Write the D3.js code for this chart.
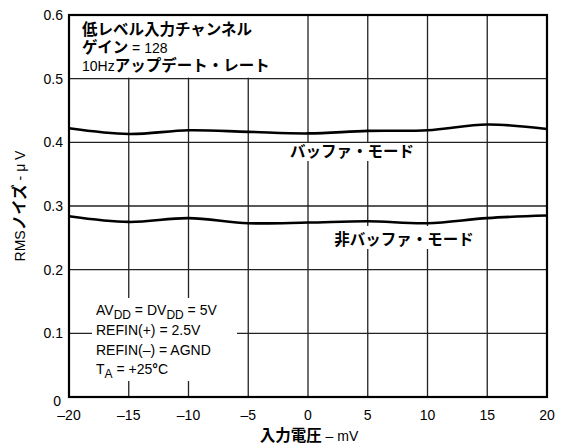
<!DOCTYPE html>
<html>
<head>
<meta charset="utf-8">
<script src="https://cdn.jsdelivr.net/npm/d3@7"></script>
<style>
  body { margin: 0; background: #fff; }
  text { font-family: "Liberation Sans", Arial, "Noto Sans CJK JP", sans-serif; fill: #000; }
  .jp { font-family: "Noto Sans CJK JP", sans-serif; font-weight: bold; font-size: 15.5px; }
</style>
</head>
<body>
<svg id="svg-area"></svg>
<script>
/* データ */
const inputVoltage = [-20, -15, -10, -5, 0, 5, 10, 15, 20];
const bufferedNoise = [0.422, 0.413, 0.419, 0.4165, 0.414, 0.418, 0.419, 0.428, 0.421];
const unbufferedNoise = [0.284, 0.275, 0.281, 0.273, 0.274, 0.276, 0.273, 0.281, 0.285];
const xTicks = [-20, -15, -10, -5, 0, 5, 10, 15, 20];
const yTicks = [0, 0.1, 0.2, 0.3, 0.4, 0.5, 0.6];

const width = 568, height = 446;
const margin = { left: 69, right: 21, top: 15, bottom: 49 };

const svg = d3.select("#svg-area")
  .attr("width", width)
  .attr("height", height);

const xScale = d3.scaleLinear()
  .domain([-20, 20])
  .range([margin.left, width - margin.right]);
const yScale = d3.scaleLinear()
  .domain([0, 0.6])
  .range([height - margin.bottom, margin.top]);

/* グリッド */
const grid = svg.append("g");
grid.selectAll(".vg").data(xTicks.slice(1, -1)).join("line")
  .attr("x1", d => xScale(d)).attr("x2", d => xScale(d))
  .attr("y1", yScale(0)).attr("y2", yScale(0.6))
  .attr("stroke", "#222").attr("stroke-width", 1.3);
grid.selectAll(".hg").data(yTicks.slice(1, -1)).join("line")
  .attr("x1", xScale(-20)).attr("x2", xScale(20))
  .attr("y1", d => yScale(d)).attr("y2", d => yScale(d))
  .attr("stroke", "#222").attr("stroke-width", 1.3);

/* 白い背景付きのテキストブロック */
function whiteBox(x0, y0, x1, y1) {
  svg.append("rect")
    .attr("x", x0).attr("y", y0)
    .attr("width", x1 - x0).attr("height", y1 - y0)
    .attr("fill", "#fff");
}
whiteBox(xScale(-20), yScale(0.6), 285, yScale(0.5) - 1);
whiteBox(92, 298, 237, 381);
whiteBox(285, 143, 419, 161);
whiteBox(330, 226, 478, 249);

/* 曲線 */
const line = d3.line()
  .x((d, i) => xScale(inputVoltage[i]))
  .y(d => yScale(d))
  .curve(d3.curveCatmullRom.alpha(0.5));
[bufferedNoise, unbufferedNoise].forEach(s => {
  svg.append("path")
    .attr("d", line(s))
    .attr("fill", "none")
    .attr("stroke", "#000")
    .attr("stroke-width", 2.6);
});

/* 枠 */
svg.append("rect")
  .attr("x", xScale(-20)).attr("y", yScale(0.6))
  .attr("width", xScale(20) - xScale(-20))
  .attr("height", yScale(0) - yScale(0.6))
  .attr("fill", "none").attr("stroke", "#000").attr("stroke-width", 2.2);

/* 軸ラベル */
svg.append("g").selectAll("text").data(xTicks).join("text")
  .attr("x", d => xScale(d)).attr("y", 420)
  .attr("text-anchor", "middle")
  .attr("font-size", 14)
  .text(d => d < 0 ? "\u2013" + Math.abs(d) : d);
svg.append("g").selectAll("text").data(yTicks).join("text")
  .attr("x", d => d === 0 ? 61 : 63).attr("y", d => d === 0 ? yScale(d) + 9 : yScale(d) + 5)
  .attr("text-anchor", "end")
  .attr("font-size", 14)
  .text(d => d === 0 ? "0" : d.toFixed(1));

/* 軸タイトル */
const xt = svg.append("text")
  .attr("x", 309).attr("y", 441)
  .attr("text-anchor", "middle")
  .attr("font-size", 14);
xt.append("tspan").attr("class", "jp").text("入力電圧");
xt.append("tspan").text(" \u2013 mV");

const yt = svg.append("text")
  .attr("transform", "translate(25," + yScale(0.3) + ") rotate(-90)")
  .attr("text-anchor", "middle")
  .attr("font-size", 14);
yt.append("tspan").text("RMS");
yt.append("tspan").attr("class", "jp").text("ノイズ");
yt.append("tspan").text(" - \u03bc V");

/* 左上の注記 */
const note = svg.append("g").attr("font-size", 14);
note.append("text").attr("x", 82).attr("y", 35).attr("class", "jp").text("低レベル入力チャンネル");
const g2 = note.append("text").attr("x", 82).attr("y", 53);
g2.append("tspan").attr("class", "jp").text("ゲイン");
g2.append("tspan").text(" = 128");
const g3 = note.append("text").attr("x", 82).attr("y", 71);
g3.append("tspan").text("10Hz");
g3.append("tspan").attr("class", "jp").text("アップデート・レート");

/* 系列ラベル */
svg.append("text").attr("x", 352).attr("y", 157).attr("text-anchor", "middle")
  .attr("class", "jp").text("バッファ・モード");
svg.append("text").attr("x", 404).attr("y", 245).attr("text-anchor", "middle")
  .attr("class", "jp").text("非バッファ・モード");

/* 条件 */
const cond = svg.append("g").attr("font-size", 14);
const c1 = cond.append("text").attr("x", 96).attr("y", 315);
c1.append("tspan").text("AV");
c1.append("tspan").attr("font-size", 12).attr("dy", 4).text("DD");
c1.append("tspan").attr("dy", -4).text(" = DV");
c1.append("tspan").attr("font-size", 12).attr("dy", 4).text("DD");
c1.append("tspan").attr("dy", -4).text(" = 5V");
cond.append("text").attr("x", 96).attr("y", 335).text("REFIN(+) = 2.5V");
cond.append("text").attr("x", 96).attr("y", 355).text("REFIN(\u2013) = AGND");
const c4 = cond.append("text").attr("x", 96).attr("y", 374);
c4.append("tspan").text("T");
c4.append("tspan").attr("font-size", 12).attr("dy", 4).text("A");
c4.append("tspan").attr("dy", -4).text(" = +25");
c4.append("tspan").attr("font-weight", "bold").text("\u00b0");
c4.append("tspan").text("C");
</script>
</body>
</html>
